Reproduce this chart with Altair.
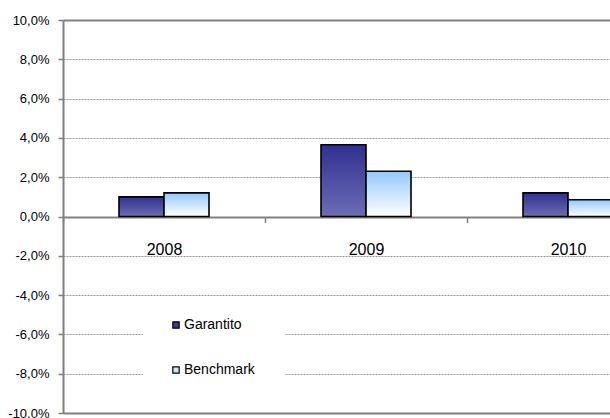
import altair as alt
import pandas as pd

# Annual returns (%) per year for the guaranteed line and its benchmark
years = ["2008", "2009", "2010"]
series = ["Garantito", "Benchmark"]
garantito = [1.0, 3.65, 1.2]
benchmark = [1.2, 2.3, 0.85]

y_ticks = [-10, -8, -6, -4, -2, 0, 2, 4, 6, 8, 10]

rows = []
for i, yr in enumerate(years):
    rows.append({"year": yr, "series": series[0], "value": garantito[i]})
    rows.append({"year": yr, "series": series[1], "value": benchmark[i]})
df = pd.DataFrame(rows)

FONT = "Liberation Sans"

grad_g = {
    "gradient": "linear", "x1": 0, "y1": 0, "x2": 0, "y2": 1,
    "stops": [{"offset": 0, "color": "#30308f"}, {"offset": 1, "color": "#6c6cb8"}],
}
grad_b = {
    "gradient": "linear", "x1": 0, "y1": 0, "x2": 0, "y2": 1,
    "stops": [{"offset": 0, "color": "#93c8fc"}, {"offset": 1, "color": "#ffffff"}],
}

x_scale = alt.Scale(domain=years, range=[0, 606], paddingInner=0, paddingOuter=0)
xo_scale = alt.Scale(domain=series, range=[56, 146], paddingInner=0, paddingOuter=0)
y_scale = alt.Scale(domain=[-10, 10], nice=False, zero=False)

x_axis = alt.Axis(
    title=None, domain=False, labelAngle=0, orient="bottom", offset=-196.5,
    ticks=True, tickSize=6, tickColor="#808080", tickWidth=1.5, tickOffset=-101,
    labelOffset=101,
    labelFont=FONT, labelFontSize=16, labelColor="#000000", labelPadding=19,
    grid=False,
)

y_axis = alt.Axis(
    title=None, values=y_ticks, tickCount=len(y_ticks) + 2, labelOverlap=False,
    labelExpr="(datum.value < 0 ? '-' : '') + replace(format(abs(datum.value), '.1f'), '.', ',') + '%'",
    labelFont=FONT, labelFontSize=13, labelColor="#000000", labelPadding=9,
    domain=True, domainColor="#808080", domainWidth=2,
    ticks=True, tickSize=5, tickColor="#808080", tickWidth=1.5,
    grid=True,
    gridColor={"condition": {"test": "abs(datum.value) == 10 || datum.value == 0", "value": "#808080"}, "value": "#9a9a9a"},
    gridDash={"condition": {"test": "abs(datum.value) == 10 || datum.value == 0", "value": []}, "value": [2, 1]},
    gridWidth={"condition": {"test": "abs(datum.value) == 10 || datum.value == 0", "value": 2}, "value": 1},
)

base = alt.Chart(df)

bars_g = base.transform_filter(alt.datum.series == series[0]).mark_bar(
    fill=grad_g, stroke="#000000", strokeWidth=1.6, clip=True
).encode(
    x=alt.X("year:N", scale=x_scale, axis=x_axis, sort=years),
    xOffset=alt.XOffset("series:N", scale=xo_scale, sort=series),
    y=alt.Y("value:Q", scale=y_scale, axis=y_axis),
    y2=alt.datum(0),
)

bars_b = base.transform_filter(alt.datum.series == series[1]).mark_bar(
    fill=grad_b, stroke="#000000", strokeWidth=1.6, clip=True
).encode(
    x=alt.X("year:N", scale=x_scale, sort=years),
    xOffset=alt.XOffset("series:N", scale=xo_scale, sort=series),
    y=alt.Y("value:Q", scale=y_scale),
    y2=alt.datum(0),
)

# Legend block: white backing that interrupts the gridlines, swatches and names
legend_bg = alt.Chart(pd.DataFrame({"k": [0]})).mark_rect(fill="white").encode(
    x=alt.value(80), x2=alt.value(222), y=alt.value(286), y2=alt.value(372)
)

legend_parts = [legend_bg]
swatch_fill = ["#3a3a98", "#cfe6ff"]
for i, name in enumerate(series):
    yy = 305 + i * 45
    sw = alt.Chart(pd.DataFrame({"label": [name]})).mark_square(
        size=40, fill=swatch_fill[i], stroke="#000000", strokeWidth=1.2, opacity=1
    ).encode(x=alt.value(113), y=alt.value(yy))
    tx = alt.Chart(pd.DataFrame({"label": [name]})).mark_text(
        align="left", baseline="middle", font=FONT, fontSize=14, color="#000000"
    ).encode(x=alt.value(121), y=alt.value(yy), text="label:N")
    legend_parts += [sw, tx]

chart = alt.layer(bars_g, bars_b, *legend_parts).properties(
    width=547, height=393,
    autosize=alt.AutoSizeParams(type="none"),
    padding={"left": 63, "top": 20, "right": 0, "bottom": 5},
).configure_view(stroke=None).configure(background="white")

chart.save("out.html", embed_options={"renderer": "svg", "actions": False})
